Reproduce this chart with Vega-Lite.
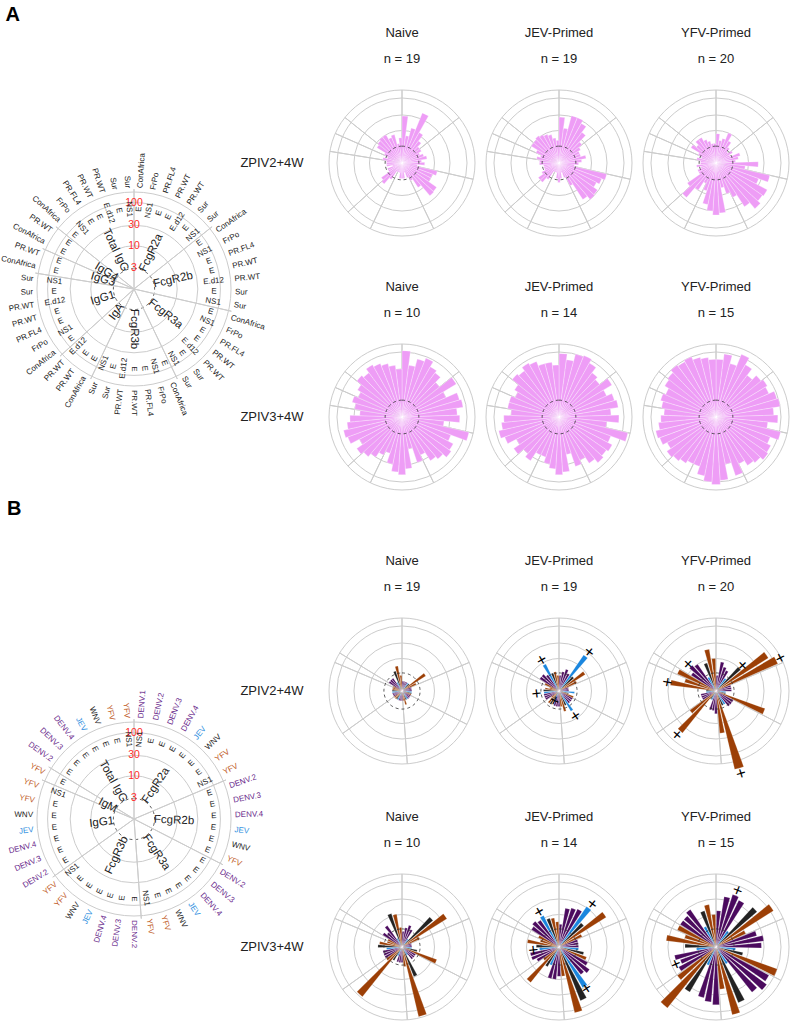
{
"$schema": "https://vega.github.io/schema/vega-lite/v6.json",
"padding": {"top": 5, "left": 0, "right": 0, "bottom": 0},
"spacing": 0,
"background": "white",
"config": {"view": {"stroke": null}, "font": "Liberation Sans", "text": {"font": "Liberation Sans", "color": "#222222"}},
"datasets": {
"panels": [
{"p":"n2","g":"Naive","t":"ZPIV2+4W","n":"n = 19"},
{"p":"j2","g":"JEV-Primed","t":"ZPIV2+4W","n":"n = 19"},
{"p":"y2","g":"YFV-Primed","t":"ZPIV2+4W","n":"n = 20"},
{"p":"n3","g":"Naive","t":"ZPIV3+4W","n":"n = 10"},
{"p":"j3","g":"JEV-Primed","t":"ZPIV3+4W","n":"n = 14"},
{"p":"y3","g":"YFV-Primed","t":"ZPIV3+4W","n":"n = 15"}
],
"ringv": [{"v":10},{"v":30},{"v":100},{"v":176}],
"ringlab": [{"v":3,"l":"3"},{"v":10,"l":"10"},{"v":30,"l":"30"},{"v":100,"l":"100"}],
"barsA": [
{"k":1,"sec":"FcgR2a","st":"ConAfrica","ag":"E","n2":28,"j2":26,"y2":8,"n3":110,"j3":90,"y3":60},
{"k":2,"sec":"FcgR2a","st":"FrPo","ag":"NS1","n2":7,"j2":12,"y2":5,"n3":40,"j3":60,"y3":90},
{"k":3,"sec":"FcgR2a","st":"PR.FL4","ag":"E","n2":13,"j2":32,"y2":6,"n3":70,"j3":100,"y3":50},
{"k":4,"sec":"FcgR2a","st":"PR.WT","ag":"E","n2":46,"j2":32,"y2":10,"n3":90,"j3":110,"y3":120},
{"k":5,"sec":"FcgR2a","st":"PR.WT","ag":"E.d12","n2":12,"j2":25,"y2":6,"n3":60,"j3":80,"y3":70},
{"k":6,"sec":"FcgR2a","st":"Sur","ag":"E","n2":7,"j2":15,"y2":4,"n3":50,"j3":50,"y3":40},
{"k":7,"sec":"FcgR2a","st":"Sur","ag":"NS1","n2":5,"j2":8,"y2":3,"n3":30,"j3":40,"y3":60},
{"k":8,"sec":"FcgR2b","st":"ConAfrica","ag":"E","n2":5,"j2":6,"y2":4,"n3":90,"j3":80,"y3":70},
{"k":9,"sec":"FcgR2b","st":"FrPo","ag":"NS1","n2":4,"j2":5,"y2":3,"n3":30,"j3":40,"y3":60},
{"k":10,"sec":"FcgR2b","st":"PR.FL4","ag":"E","n2":5,"j2":5,"y2":6,"n3":70,"j3":60,"y3":90},
{"k":11,"sec":"FcgR2b","st":"PR.WT","ag":"E","n2":6,"j2":7,"y2":5,"n3":80,"j3":70,"y3":100},
{"k":12,"sec":"FcgR2b","st":"PR.WT","ag":"E.d12","n2":4,"j2":5,"y2":4,"n3":50,"j3":40,"y3":60},
{"k":13,"sec":"FcgR2b","st":"Sur","ag":"E","n2":5,"j2":4,"y2":20,"n3":60,"j3":70,"y3":80},
{"k":14,"sec":"FcgR2b","st":"Sur","ag":"NS1","n2":3,"j2":3,"y2":8,"n3":20,"j3":30,"y3":40},
{"k":15,"sec":"FcgR3a","st":"ConAfrica","ag":"E","n2":13,"j2":32,"y2":50,"n3":130,"j3":150,"y3":110},
{"k":16,"sec":"FcgR3a","st":"FrPo","ag":"NS1","n2":10,"j2":25,"y2":25,"n3":40,"j3":50,"y3":60},
{"k":17,"sec":"FcgR3a","st":"PR.FL4","ag":"E","n2":10,"j2":20,"y2":60,"n3":60,"j3":70,"y3":80},
{"k":18,"sec":"FcgR3a","st":"PR.WT","ag":"E","n2":20,"j2":28,"y2":55,"n3":70,"j3":60,"y3":90},
{"k":19,"sec":"FcgR3a","st":"PR.WT","ag":"E.d12","n2":21,"j2":30,"y2":70,"n3":50,"j3":70,"y3":70},
{"k":20,"sec":"FcgR3a","st":"Sur","ag":"E","n2":8,"j2":22,"y2":40,"n3":40,"j3":50,"y3":60},
{"k":21,"sec":"FcgR3a","st":"Sur","ag":"NS1","n2":4,"j2":6,"y2":15,"n3":20,"j3":30,"y3":40},
{"k":22,"sec":"FcgR3b","st":"ConAfrica","ag":"E","n2":3,"j2":3,"y2":10,"n3":30,"j3":40,"y3":80},
{"k":23,"sec":"FcgR3b","st":"FrPo","ag":"NS1","n2":2,"j2":2,"y2":6,"n3":10,"j3":15,"y3":30},
{"k":24,"sec":"FcgR3b","st":"PR.FL4","ag":"E","n2":3,"j2":3,"y2":35,"n3":40,"j3":50,"y3":90},
{"k":25,"sec":"FcgR3b","st":"PR.WT","ag":"E","n2":3,"j2":4,"y2":40,"n3":60,"j3":60,"y3":120},
{"k":26,"sec":"FcgR3b","st":"PR.WT","ag":"E.d12","n2":3,"j2":3,"y2":30,"n3":50,"j3":40,"y3":100},
{"k":27,"sec":"FcgR3b","st":"Sur","ag":"E","n2":2,"j2":2,"y2":20,"n3":30,"j3":30,"y3":70},
{"k":28,"sec":"FcgR3b","st":"Sur","ag":"NS1","n2":2,"j2":2,"y2":8,"n3":15,"j3":20,"y3":40},
{"k":29,"sec":"IgA","st":"ConAfrica","ag":"E","n2":2,"j2":2,"y2":5,"n3":20,"j3":20,"y3":40},
{"k":30,"sec":"IgA","st":"PR.WT","ag":"E","n2":4,"j2":4,"y2":10,"n3":30,"j3":40,"y3":50},
{"k":31,"sec":"IgA","st":"PR.WT","ag":"E.d12","n2":7,"j2":6,"y2":25,"n3":40,"j3":30,"y3":60},
{"k":32,"sec":"IgG1","st":"ConAfrica","ag":"E","n2":6,"j2":6,"y2":12,"n3":50,"j3":50,"y3":70},
{"k":33,"sec":"IgG1","st":"FrPo","ag":"NS1","n2":3,"j2":4,"y2":4,"n3":30,"j3":30,"y3":50},
{"k":34,"sec":"IgG1","st":"PR.FL4","ag":"E","n2":3,"j2":3,"y2":4,"n3":60,"j3":60,"y3":70},
{"k":35,"sec":"IgG1","st":"PR.WT","ag":"E","n2":2,"j2":3,"y2":3,"n3":70,"j3":80,"y3":80},
{"k":36,"sec":"IgG1","st":"PR.WT","ag":"E.d12","n2":3,"j2":3,"y2":4,"n3":50,"j3":60,"y3":60},
{"k":37,"sec":"IgG1","st":"Sur","ag":"E","n2":3,"j2":4,"y2":3,"n3":40,"j3":50,"y3":50},
{"k":38,"sec":"IgG1","st":"Sur","ag":"NS1","n2":3,"j2":4,"y2":3,"n3":20,"j3":30,"y3":40},
{"k":39,"sec":"IgG3","st":"ConAfrica","ag":"E","n2":4,"j2":5,"y2":4,"n3":30,"j3":40,"y3":50},
{"k":40,"sec":"IgG3","st":"PR.WT","ag":"E","n2":3,"j2":4,"y2":3,"n3":40,"j3":40,"y3":60},
{"k":41,"sec":"IgG4","st":"ConAfrica","ag":"E","n2":4,"j2":6,"y2":4,"n3":30,"j3":30,"y3":50},
{"k":42,"sec":"IgG4","st":"PR.WT","ag":"E","n2":8,"j2":10,"y2":8,"n3":40,"j3":40,"y3":70},
{"k":43,"sec":"Total IgG","st":"ConAfrica","ag":"E","n2":9,"j2":10,"y2":6,"n3":60,"j3":70,"y3":80},
{"k":44,"sec":"Total IgG","st":"FrPo","ag":"NS1","n2":10,"j2":11,"y2":8,"n3":50,"j3":60,"y3":100},
{"k":45,"sec":"Total IgG","st":"PR.FL4","ag":"E","n2":10,"j2":10,"y2":8,"n3":70,"j3":80,"y3":90},
{"k":46,"sec":"Total IgG","st":"PR.WT","ag":"E","n2":7,"j2":9,"y2":6,"n3":60,"j3":70,"y3":100},
{"k":47,"sec":"Total IgG","st":"PR.WT","ag":"E.d12","n2":8,"j2":8,"y2":5,"n3":50,"j3":50,"y3":80},
{"k":48,"sec":"Total IgG","st":"Sur","ag":"E","n2":4,"j2":6,"y2":4,"n3":40,"j3":50,"y3":70},
{"k":49,"sec":"Total IgG","st":"Sur","ag":"NS1","n2":6,"j2":5,"y2":4,"n3":30,"j3":40,"y3":60}
],
"barsB": [
{"k":1,"sec":"FcgR2a","st":"DENV.1","ag":"NS1","n2":2,"j2":3,"y2":3,"n3":3,"j3":5,"y3":13},
{"k":2,"sec":"FcgR2a","st":"DENV.2","ag":"E","n2":2,"j2":4,"y2":8,"n3":4,"j3":16,"y3":37},
{"k":3,"sec":"FcgR2a","st":"DENV.3","ag":"E","n2":2,"j2":5,"y2":6,"n3":5,"j3":18,"y3":49},
{"k":4,"sec":"FcgR2a","st":"DENV.4","ag":"E","n2":2,"j2":4,"y2":5,"n3":4,"j3":20,"y3":40},
{"k":5,"sec":"FcgR2a","st":"JEV","ag":"E","n2":2,"j2":22,"y2":3,"n3":2,"j3":32,"y3":4},
{"k":6,"sec":"FcgR2a","st":"WNV","ag":"E","n2":2,"j2":4,"y2":10,"n3":18,"j3":10,"y3":46},
{"k":7,"sec":"FcgR2a","st":"YFV","ag":"E","n2":7.3,"j2":9,"y2":80,"n3":43,"j3":52,"y3":123},
{"k":8,"sec":"FcgR2a","st":"YFV","ag":"NS1","n2":3,"j2":4,"y2":120,"n3":4,"j3":6,"y3":10},
{"k":9,"sec":"FcgR2b","st":"DENV.2","ag":"E","n2":2,"j2":2,"y2":3,"n3":2,"j3":4,"y3":20},
{"k":10,"sec":"FcgR2b","st":"DENV.3","ag":"E","n2":2,"j2":2,"y2":3,"n3":2,"j3":4,"y3":30},
{"k":11,"sec":"FcgR2b","st":"DENV.4","ag":"E","n2":2,"j2":2,"y2":3,"n3":2,"j3":4,"y3":25},
{"k":12,"sec":"FcgR2b","st":"JEV","ag":"E","n2":2,"j2":3,"y2":2,"n3":2,"j3":4,"y3":4},
{"k":13,"sec":"FcgR2b","st":"WNV","ag":"E","n2":2,"j2":2,"y2":2,"n3":3,"j3":6,"y3":7},
{"k":14,"sec":"FcgR2b","st":"YFV","ag":"E","n2":2,"j2":3,"y2":40,"n3":13.7,"j3":8,"y3":100},
{"k":15,"sec":"FcgR3a","st":"DENV.2","ag":"E","n2":2,"j2":3,"y2":4,"n3":3,"j3":10,"y3":70},
{"k":16,"sec":"FcgR3a","st":"DENV.3","ag":"E","n2":2,"j2":3,"y2":4,"n3":3,"j3":14.7,"y3":87},
{"k":17,"sec":"FcgR3a","st":"DENV.4","ag":"E","n2":2,"j2":3,"y2":4,"n3":3,"j3":12,"y3":60},
{"k":18,"sec":"FcgR3a","st":"JEV","ag":"E","n2":2,"j2":5.3,"y2":3,"n3":2,"j3":28,"y3":4},
{"k":19,"sec":"FcgR3a","st":"WNV","ag":"E","n2":2,"j2":3,"y2":3,"n3":9.6,"j3":60,"y3":70},
{"k":20,"sec":"FcgR3a","st":"YFV","ag":"E","n2":2.7,"j2":4.4,"y2":300,"n3":160,"j3":120,"y3":140},
{"k":21,"sec":"FcgR3a","st":"YFV","ag":"NS1","n2":2,"j2":3,"y2":20,"n3":4,"j3":8,"y3":20},
{"k":22,"sec":"FcgR3b","st":"DENV.2","ag":"E","n2":2,"j2":3,"y2":5,"n3":3,"j3":8,"y3":60},
{"k":23,"sec":"FcgR3b","st":"DENV.3","ag":"E","n2":2,"j2":3,"y2":4,"n3":3,"j3":10,"y3":50},
{"k":24,"sec":"FcgR3b","st":"DENV.4","ag":"E","n2":2,"j2":3,"y2":4,"n3":3,"j3":10,"y3":40},
{"k":25,"sec":"FcgR3b","st":"JEV","ag":"E","n2":2,"j2":1.8,"y2":2,"n3":2,"j3":4,"y3":4},
{"k":26,"sec":"FcgR3b","st":"WNV","ag":"E","n2":2,"j2":3,"y2":2,"n3":3,"j3":5,"y3":40},
{"k":27,"sec":"FcgR3b","st":"YFV","ag":"E","n2":2,"j2":3,"y2":45,"n3":90,"j3":25,"y3":250},
{"k":28,"sec":"FcgR3b","st":"YFV","ag":"NS1","n2":2,"j2":2,"y2":10,"n3":4,"j3":4,"y3":30},
{"k":29,"sec":"IgG1","st":"DENV.2","ag":"E","n2":2,"j2":3,"y2":3,"n3":4,"j3":6,"y3":20},
{"k":30,"sec":"IgG1","st":"DENV.3","ag":"E","n2":2,"j2":3,"y2":3,"n3":4,"j3":8,"y3":14.7},
{"k":31,"sec":"IgG1","st":"DENV.4","ag":"E","n2":2,"j2":3,"y2":3,"n3":4,"j3":8,"y3":20},
{"k":32,"sec":"IgG1","st":"JEV","ag":"E","n2":2,"j2":2.9,"y2":2,"n3":3,"j3":4,"y3":4},
{"k":33,"sec":"IgG1","st":"WNV","ag":"E","n2":2,"j2":3,"y2":2,"n3":5.5,"j3":5,"y3":9},
{"k":34,"sec":"IgG1","st":"YFV","ag":"E","n2":2,"j2":2.7,"y2":26,"n3":5,"j3":9.6,"y3":35},
{"k":35,"sec":"IgG1","st":"YFV","ag":"NS1","n2":2,"j2":2,"y2":10,"n3":3,"j3":4,"y3":10},
{"k":36,"sec":"IgM","st":"YFV","ag":"E","n2":2,"j2":3,"y2":20,"n3":3,"j3":5,"y3":20},
{"k":37,"sec":"Total IgG","st":"DENV.2","ag":"E","n2":3,"j2":5,"y2":8,"n3":5,"j3":10,"y3":20},
{"k":38,"sec":"Total IgG","st":"DENV.3","ag":"E","n2":3,"j2":5,"y2":12,"n3":4,"j3":12,"y3":20},
{"k":39,"sec":"Total IgG","st":"DENV.4","ag":"E","n2":3,"j2":4,"y2":10,"n3":6.3,"j3":10,"y3":25},
{"k":40,"sec":"Total IgG","st":"JEV","ag":"E","n2":2,"j2":8.4,"y2":3,"n3":2,"j3":12,"y3":5},
{"k":41,"sec":"Total IgG","st":"WNV","ag":"E","n2":4.4,"j2":3.8,"y2":8,"n3":12,"j3":8.4,"y3":14.7},
{"k":42,"sec":"Total IgG","st":"YFV","ag":"E","n2":6,"j2":4,"y2":20,"n3":10.4,"j3":8,"y3":21},
{"k":43,"sec":"Total IgG","st":"YFV","ag":"NS1","n2":3,"j2":3,"y2":10,"n3":4,"j3":6,"y3":10}
],
"plusB": [
{"p":"j2","k":5,"v":32},{"p":"j2","k":18,"v":8},{"p":"j2","k":32,"v":4.7},{"p":"j2","k":40,"v":12},{"p":"j2","k":25,"v":2},
{"p":"y2","k":8,"v":160},{"p":"y2","k":20,"v":420},{"p":"y2","k":27,"v":60},{"p":"y2","k":34,"v":32},{"p":"y2","k":38,"v":15},{"p":"y2","k":6,"v":13},
{"p":"j3","k":5,"v":46},{"p":"j3","k":18,"v":32},{"p":"j3","k":40,"v":17},{"p":"j3","k":32,"v":5.9},
{"p":"y3","k":3,"v":70},{"p":"y3","k":30,"v":21}
]
},
"vconcat": [
{
"title": {"text": "A", "anchor": "start", "fontSize": 20, "fontWeight": "bold", "dx": 5, "offset": 2, "font": "Liberation Sans"},
"width": 790, "height": 465,
"encoding": {
"x": {"field": "g", "type": "nominal", "axis": null, "scale": {"type": "point", "domain": ["Naive","JEV-Primed","YFV-Primed"], "range": [400,714], "padding": 0}},
"y": {"field": "t", "type": "nominal", "axis": null, "scale": {"type": "point", "domain": ["ZPIV2+4W","ZPIV3+4W"], "range": [129,383], "padding": 0}}
},
"resolve": {"scale": {"theta": "independent", "radius": "independent", "angle": "independent", "color": "independent"}},
"layer": [
{"data": {"name": "panels"}, "mark": {"type": "arc", "theta": 0, "theta2": 6.2832, "filled": false, "color": "#cccccc", "strokeWidth": 1}, "encoding": {"radius": {"datum": 176, "type": "quantitative", "stack": null, "scale": {"type": "log", "domain": [1,176], "range": [0,73]}}}},
{"data": {"name": "panels"}, "mark": {"type": "arc", "theta": 0, "theta2": 6.2832, "filled": false, "color": "#cccccc", "strokeWidth": 1}, "encoding": {"radius": {"datum": 100, "type": "quantitative", "stack": null, "scale": {"type": "log", "domain": [1,176], "range": [0,73]}}}},
{"data": {"name": "panels"}, "mark": {"type": "arc", "theta": 0, "theta2": 6.2832, "filled": false, "color": "#cccccc", "strokeWidth": 1}, "encoding": {"radius": {"datum": 30, "type": "quantitative", "stack": null, "scale": {"type": "log", "domain": [1,176], "range": [0,73]}}}},
{"data": {"name": "panels"}, "mark": {"type": "arc", "theta": 0, "theta2": 6.2832, "filled": false, "color": "#cccccc", "strokeWidth": 1}, "encoding": {"radius": {"datum": 10, "type": "quantitative", "stack": null, "scale": {"type": "log", "domain": [1,176], "range": [0,73]}}}},
{"data": {"name": "barsA"},
 "transform": [{"fold": ["n2","j2","y2","n3","j3","y3"], "as": ["p","v"]}, {"aggregate": [{"op": "min", "field": "k", "as": "ks"}], "groupby": ["sec","p"]}, {"lookup": "p", "from": {"data": {"name": "panels"}, "key": "p", "fields": ["g","t"]}}],
 "mark": {"type": "arc", "filled": false, "color": "#cccccc", "strokeWidth": 1},
 "encoding": {"theta": {"field": "ks", "type": "quantitative", "stack": null, "scale": {"domain": [1,50], "range": [0,6.2832]}}, "theta2": {"field": "ks"}, "radius": {"datum": 176, "type": "quantitative", "stack": null, "scale": {"type": "log", "domain": [1,176], "range": [0,73]}}}},
{"data": {"name": "barsA"},
 "transform": [{"fold": ["n2","j2","y2","n3","j3","y3"], "as": ["p","v"]}, {"lookup": "p", "from": {"data": {"name": "panels"}, "key": "p", "fields": ["g","t"]}}],
 "mark": {"type": "arc", "color": "#ee9df6", "stroke": "#ffffff", "strokeWidth": 0.3},
 "encoding": {"theta": {"field": "k", "type": "ordinal", "scale": {"type": "band", "paddingInner": 0, "paddingOuter": 0}}, "radius": {"field": "v", "type": "quantitative", "stack": null, "scale": {"type": "log", "domain": [1,176], "range": [0,73]}}}},
{"data": {"name": "panels"}, "mark": {"type": "arc", "theta": 0, "theta2": 6.2832, "filled": false, "color": "#333333", "strokeWidth": 0.8, "strokeDash": [3,3]}, "encoding": {"radius": {"datum": 3.3, "type": "quantitative", "stack": null, "scale": {"type": "log", "domain": [1,176], "range": [0,73]}}}},
{"data": {"name": "panels"}, "mark": {"type": "text", "dy": -130, "fontSize": 13}, "encoding": {"text": {"field": "g"}}},
{"data": {"name": "panels"}, "mark": {"type": "text", "dy": -104, "fontSize": 13}, "encoding": {"text": {"field": "n"}}},
{"data": {"name": "panels"}, "transform": [{"filter": "datum.g == 'Naive'"}], "mark": {"type": "text", "dx": -130, "fontSize": 13}, "encoding": {"text": {"field": "t"}}},
{"data": {"name": "ringv"}, "mark": {"type": "arc", "theta": 0, "theta2": 6.2832, "filled": false, "color": "#cccccc", "strokeWidth": 1, "xOffset": -268, "yOffset": 126},
 "encoding": {"x": {"datum": "Naive", "type": "nominal"}, "y": {"datum": "ZPIV2+4W", "type": "nominal"}, "radius": {"field": "v", "type": "quantitative", "stack": null, "scale": {"type": "log", "domain": [1,176], "range": [0,97]}}}},
{"data": {"name": "ringlab"}, "transform": [{"filter": "datum.v == 3"}], "mark": {"type": "arc", "theta": 0, "theta2": 6.2832, "filled": false, "color": "#333333", "strokeWidth": 0.8, "strokeDash": [3,3], "xOffset": -268, "yOffset": 126},
 "encoding": {"x": {"datum": "Naive", "type": "nominal"}, "y": {"datum": "ZPIV2+4W", "type": "nominal"}, "radius": {"field": "v", "type": "quantitative", "stack": null, "scale": {"type": "log", "domain": [1,176], "range": [0,97]}}}},
{"data": {"name": "barsA"}, "transform": [{"aggregate": [{"op": "min", "field": "k", "as": "ks"}], "groupby": ["sec"]}],
 "mark": {"type": "arc", "filled": false, "color": "#cccccc", "strokeWidth": 1, "xOffset": -268, "yOffset": 126},
 "encoding": {"x": {"datum": "Naive", "type": "nominal"}, "y": {"datum": "ZPIV2+4W", "type": "nominal"}, "theta": {"field": "ks", "type": "quantitative", "stack": null, "scale": {"domain": [1,50], "range": [0,6.2832]}}, "theta2": {"field": "ks"}, "radius": {"datum": 205, "type": "quantitative", "stack": null, "scale": {"type": "log", "domain": [1,176], "range": [0,97]}}}},
{"data": {"name": "ringlab"}, "mark": {"type": "text", "color": "#ff2a2a", "fontSize": 10.5, "baseline": "middle", "xOffset": -268, "yOffset": 126},
 "encoding": {"x": {"datum": "Naive", "type": "nominal"}, "y": {"datum": "ZPIV2+4W", "type": "nominal"}, "text": {"field": "l"}, "theta": {"value": 0}, "radius": {"field": "v", "type": "quantitative", "stack": null, "scale": {"type": "log", "domain": [1,176], "range": [0,97]}}}},
{"data": {"name": "barsA"}, "transform": [{"aggregate": [{"op": "mean", "field": "k", "as": "km"}], "groupby": ["sec"]}, {"filter": "datum.km <= 25"}],
 "mark": {"type": "text", "fontSize": 11.5, "align": "left", "baseline": "middle", "xOffset": -268, "yOffset": 126},
 "encoding": {"x": {"datum": "Naive", "type": "nominal"}, "y": {"datum": "ZPIV2+4W", "type": "nominal"}, "text": {"field": "sec"}, "theta": {"field": "km", "type": "quantitative", "stack": null, "scale": {"domain": [0.5,49.5], "range": [0,6.2832]}}, "angle": {"field": "km", "type": "quantitative", "scale": {"domain": [0.5,49.5], "range": [-90,270]}}, "radius": {"datum": 2.9, "type": "quantitative", "stack": null, "scale": {"type": "log", "domain": [1,176], "range": [0,97]}}}},
{"data": {"name": "barsA"}, "transform": [{"aggregate": [{"op": "mean", "field": "k", "as": "km"}], "groupby": ["sec"]}, {"filter": "datum.km > 25"}],
 "mark": {"type": "text", "fontSize": 11.5, "align": "right", "baseline": "middle", "xOffset": -268, "yOffset": 126},
 "encoding": {"x": {"datum": "Naive", "type": "nominal"}, "y": {"datum": "ZPIV2+4W", "type": "nominal"}, "text": {"field": "sec"}, "theta": {"field": "km", "type": "quantitative", "stack": null, "scale": {"domain": [0.5,49.5], "range": [0,6.2832]}}, "angle": {"field": "km", "type": "quantitative", "scale": {"domain": [0.5,49.5], "range": [90,450]}}, "radius": {"datum": 2.9, "type": "quantitative", "stack": null, "scale": {"type": "log", "domain": [1,176], "range": [0,97]}}}},
{"data": {"name": "barsA"}, "transform": [{"filter": "datum.k <= 25"}],
 "mark": {"type": "text", "fontSize": 8, "align": "left", "baseline": "middle", "xOffset": -268, "yOffset": 126},
 "encoding": {"x": {"datum": "Naive", "type": "nominal"}, "y": {"datum": "ZPIV2+4W", "type": "nominal"}, "text": {"field": "st"}, "theta": {"field": "k", "type": "quantitative", "stack": null, "scale": {"domain": [0.5,49.5], "range": [0,6.2832]}}, "angle": {"field": "k", "type": "quantitative", "scale": {"domain": [0.5,49.5], "range": [-90,270]}}, "radius": {"datum": 218, "type": "quantitative", "stack": null, "scale": {"type": "log", "domain": [1,176], "range": [0,97]}}}},
{"data": {"name": "barsA"}, "transform": [{"filter": "datum.k > 25"}],
 "mark": {"type": "text", "fontSize": 8, "align": "right", "baseline": "middle", "xOffset": -268, "yOffset": 126},
 "encoding": {"x": {"datum": "Naive", "type": "nominal"}, "y": {"datum": "ZPIV2+4W", "type": "nominal"}, "text": {"field": "st"}, "theta": {"field": "k", "type": "quantitative", "stack": null, "scale": {"domain": [0.5,49.5], "range": [0,6.2832]}}, "angle": {"field": "k", "type": "quantitative", "scale": {"domain": [0.5,49.5], "range": [90,450]}}, "radius": {"datum": 218, "type": "quantitative", "stack": null, "scale": {"type": "log", "domain": [1,176], "range": [0,97]}}}},
{"data": {"name": "barsA"}, "transform": [{"filter": "datum.k <= 25"}],
 "mark": {"type": "text", "fontSize": 8, "align": "center", "baseline": "middle", "xOffset": -268, "yOffset": 126},
 "encoding": {"x": {"datum": "Naive", "type": "nominal"}, "y": {"datum": "ZPIV2+4W", "type": "nominal"}, "text": {"field": "ag"}, "theta": {"field": "k", "type": "quantitative", "stack": null, "scale": {"domain": [0.5,49.5], "range": [0,6.2832]}}, "angle": {"field": "k", "type": "quantitative", "scale": {"domain": [0.5,49.5], "range": [-90,270]}}, "radius": {"datum": 71, "type": "quantitative", "stack": null, "scale": {"type": "log", "domain": [1,176], "range": [0,97]}}}},
{"data": {"name": "barsA"}, "transform": [{"filter": "datum.k > 25"}],
 "mark": {"type": "text", "fontSize": 8, "align": "center", "baseline": "middle", "xOffset": -268, "yOffset": 126},
 "encoding": {"x": {"datum": "Naive", "type": "nominal"}, "y": {"datum": "ZPIV2+4W", "type": "nominal"}, "text": {"field": "ag"}, "theta": {"field": "k", "type": "quantitative", "stack": null, "scale": {"domain": [0.5,49.5], "range": [0,6.2832]}}, "angle": {"field": "k", "type": "quantitative", "scale": {"domain": [0.5,49.5], "range": [90,450]}}, "radius": {"datum": 71, "type": "quantitative", "stack": null, "scale": {"type": "log", "domain": [1,176], "range": [0,97]}}}}
]
},
{
"title": {"text": "B", "anchor": "start", "fontSize": 20, "fontWeight": "bold", "dx": 5, "offset": 2, "font": "Liberation Sans"},
"width": 790, "height": 500,
"encoding": {
"x": {"field": "g", "type": "nominal", "axis": null, "scale": {"type": "point", "domain": ["Naive","JEV-Primed","YFV-Primed"], "range": [400,714], "padding": 0}},
"y": {"field": "t", "type": "nominal", "axis": null, "scale": {"type": "point", "domain": ["ZPIV2+4W","ZPIV3+4W"], "range": [170,426], "padding": 0}}
},
"resolve": {"scale": {"theta": "independent", "radius": "independent", "angle": "independent", "color": "independent"}},
"layer": [
{"data": {"name": "panels"}, "mark": {"type": "arc", "theta": 0, "theta2": 6.2832, "filled": false, "color": "#cccccc", "strokeWidth": 1}, "encoding": {"radius": {"datum": 176, "type": "quantitative", "stack": null, "scale": {"type": "log", "domain": [1,176], "range": [0,73]}}}},
{"data": {"name": "panels"}, "mark": {"type": "arc", "theta": 0, "theta2": 6.2832, "filled": false, "color": "#cccccc", "strokeWidth": 1}, "encoding": {"radius": {"datum": 100, "type": "quantitative", "stack": null, "scale": {"type": "log", "domain": [1,176], "range": [0,73]}}}},
{"data": {"name": "panels"}, "mark": {"type": "arc", "theta": 0, "theta2": 6.2832, "filled": false, "color": "#cccccc", "strokeWidth": 1}, "encoding": {"radius": {"datum": 30, "type": "quantitative", "stack": null, "scale": {"type": "log", "domain": [1,176], "range": [0,73]}}}},
{"data": {"name": "panels"}, "mark": {"type": "arc", "theta": 0, "theta2": 6.2832, "filled": false, "color": "#cccccc", "strokeWidth": 1}, "encoding": {"radius": {"datum": 10, "type": "quantitative", "stack": null, "scale": {"type": "log", "domain": [1,176], "range": [0,73]}}}},
{"data": {"name": "barsB"},
 "transform": [{"fold": ["n2","j2","y2","n3","j3","y3"], "as": ["p","v"]}, {"aggregate": [{"op": "min", "field": "k", "as": "ks"}], "groupby": ["sec","p"]}, {"lookup": "p", "from": {"data": {"name": "panels"}, "key": "p", "fields": ["g","t"]}}],
 "mark": {"type": "arc", "filled": false, "color": "#cccccc", "strokeWidth": 1},
 "encoding": {"theta": {"field": "ks", "type": "quantitative", "stack": null, "scale": {"domain": [1,44], "range": [0,6.2832]}}, "theta2": {"field": "ks"}, "radius": {"datum": 176, "type": "quantitative", "stack": null, "scale": {"type": "log", "domain": [1,176], "range": [0,73]}}}},
{"data": {"name": "barsB"},
 "transform": [{"fold": ["n2","j2","y2","n3","j3","y3"], "as": ["p","v"]}, {"lookup": "p", "from": {"data": {"name": "panels"}, "key": "p", "fields": ["g","t"]}}],
 "mark": {"type": "arc", "stroke": "#ffffff", "strokeWidth": 0.2},
 "encoding": {"theta": {"field": "k", "type": "ordinal", "scale": {"type": "band", "paddingInner": 0.2, "paddingOuter": 0.1}}, "radius": {"field": "v", "type": "quantitative", "stack": null, "scale": {"type": "log", "domain": [1,176], "range": [0,73]}},
  "color": {"field": "st", "type": "nominal", "legend": null, "scale": {"domain": ["DENV.1","DENV.2","DENV.3","DENV.4","JEV","WNV","YFV"], "range": ["#4b0a5e","#4b0a5e","#4b0a5e","#4b0a5e","#1a86de","#222222","#9c3f06"]}}}},
{"data": {"name": "panels"}, "mark": {"type": "arc", "theta": 0, "theta2": 6.2832, "filled": false, "color": "#333333", "strokeWidth": 0.8, "strokeDash": [3,3]}, "encoding": {"radius": {"datum": 3.6, "type": "quantitative", "stack": null, "scale": {"type": "log", "domain": [1,176], "range": [0,73]}}}},
{"data": {"name": "panels"}, "mark": {"type": "arc", "theta": 0, "theta2": 6.2832, "filled": false, "color": "#aaaaaa", "strokeWidth": 1}, "encoding": {"radius": {"datum": 1.25, "type": "quantitative", "stack": null, "scale": {"type": "log", "domain": [1,176], "range": [0,73]}}}},
{"data": {"name": "plusB"}, "transform": [{"lookup": "p", "from": {"data": {"name": "panels"}, "key": "p", "fields": ["g","t"]}}],
 "mark": {"type": "text", "text": "+", "fontSize": 17, "baseline": "middle", "align": "center", "color": "#000000"},
 "encoding": {"theta": {"field": "k", "type": "quantitative", "stack": null, "scale": {"domain": [0.5,43.5], "range": [0,6.2832]}}, "angle": {"field": "k", "type": "quantitative", "scale": {"domain": [0.5,43.5], "range": [0,360]}}, "radius": {"field": "v", "type": "quantitative", "stack": null, "scale": {"type": "log", "domain": [1,176], "range": [0,73]}}}},
{"data": {"name": "panels"}, "mark": {"type": "text", "dy": -130, "fontSize": 13}, "encoding": {"text": {"field": "g"}}},
{"data": {"name": "panels"}, "mark": {"type": "text", "dy": -104, "fontSize": 13}, "encoding": {"text": {"field": "n"}}},
{"data": {"name": "panels"}, "transform": [{"filter": "datum.g == 'Naive'"}], "mark": {"type": "text", "dx": -130, "fontSize": 13}, "encoding": {"text": {"field": "t"}}},
{"data": {"name": "ringv"}, "mark": {"type": "arc", "theta": 0, "theta2": 6.2832, "filled": false, "color": "#cccccc", "strokeWidth": 1, "xOffset": -268, "yOffset": 128},
 "encoding": {"x": {"datum": "Naive", "type": "nominal"}, "y": {"datum": "ZPIV2+4W", "type": "nominal"}, "radius": {"field": "v", "type": "quantitative", "stack": null, "scale": {"type": "log", "domain": [1,176], "range": [0,97]}}}},
{"data": {"name": "ringlab"}, "transform": [{"filter": "datum.v == 3"}], "mark": {"type": "arc", "theta": 0, "theta2": 6.2832, "filled": false, "color": "#333333", "strokeWidth": 0.8, "strokeDash": [3,3], "xOffset": -268, "yOffset": 128},
 "encoding": {"x": {"datum": "Naive", "type": "nominal"}, "y": {"datum": "ZPIV2+4W", "type": "nominal"}, "radius": {"field": "v", "type": "quantitative", "stack": null, "scale": {"type": "log", "domain": [1,176], "range": [0,97]}}}},
{"data": {"name": "barsB"}, "transform": [{"aggregate": [{"op": "min", "field": "k", "as": "ks"}], "groupby": ["sec"]}],
 "mark": {"type": "arc", "filled": false, "color": "#cccccc", "strokeWidth": 1, "xOffset": -268, "yOffset": 128},
 "encoding": {"x": {"datum": "Naive", "type": "nominal"}, "y": {"datum": "ZPIV2+4W", "type": "nominal"}, "theta": {"field": "ks", "type": "quantitative", "stack": null, "scale": {"domain": [1,44], "range": [0,6.2832]}}, "theta2": {"field": "ks"}, "radius": {"datum": 205, "type": "quantitative", "stack": null, "scale": {"type": "log", "domain": [1,176], "range": [0,97]}}}},
{"data": {"name": "ringlab"}, "mark": {"type": "text", "color": "#ff2a2a", "fontSize": 10.5, "baseline": "middle", "xOffset": -268, "yOffset": 128},
 "encoding": {"x": {"datum": "Naive", "type": "nominal"}, "y": {"datum": "ZPIV2+4W", "type": "nominal"}, "text": {"field": "l"}, "theta": {"value": 0}, "radius": {"field": "v", "type": "quantitative", "stack": null, "scale": {"type": "log", "domain": [1,176], "range": [0,97]}}}},
{"data": {"name": "barsB"}, "transform": [{"aggregate": [{"op": "mean", "field": "k", "as": "km"}], "groupby": ["sec"]}, {"filter": "datum.km <= 22"}],
 "mark": {"type": "text", "fontSize": 11.5, "align": "left", "baseline": "middle", "xOffset": -268, "yOffset": 128},
 "encoding": {"x": {"datum": "Naive", "type": "nominal"}, "y": {"datum": "ZPIV2+4W", "type": "nominal"}, "text": {"field": "sec"}, "theta": {"field": "km", "type": "quantitative", "stack": null, "scale": {"domain": [0.5,43.5], "range": [0,6.2832]}}, "angle": {"field": "km", "type": "quantitative", "scale": {"domain": [0.5,43.5], "range": [-90,270]}}, "radius": {"datum": 2.9, "type": "quantitative", "stack": null, "scale": {"type": "log", "domain": [1,176], "range": [0,97]}}}},
{"data": {"name": "barsB"}, "transform": [{"aggregate": [{"op": "mean", "field": "k", "as": "km"}], "groupby": ["sec"]}, {"filter": "datum.km > 22"}],
 "mark": {"type": "text", "fontSize": 11.5, "align": "right", "baseline": "middle", "xOffset": -268, "yOffset": 128},
 "encoding": {"x": {"datum": "Naive", "type": "nominal"}, "y": {"datum": "ZPIV2+4W", "type": "nominal"}, "text": {"field": "sec"}, "theta": {"field": "km", "type": "quantitative", "stack": null, "scale": {"domain": [0.5,43.5], "range": [0,6.2832]}}, "angle": {"field": "km", "type": "quantitative", "scale": {"domain": [0.5,43.5], "range": [90,450]}}, "radius": {"datum": 2.9, "type": "quantitative", "stack": null, "scale": {"type": "log", "domain": [1,176], "range": [0,97]}}}},
{"data": {"name": "barsB"}, "transform": [{"filter": "datum.k <= 22"}],
 "mark": {"type": "text", "fontSize": 8, "align": "left", "baseline": "middle", "xOffset": -268, "yOffset": 128},
 "encoding": {"x": {"datum": "Naive", "type": "nominal"}, "y": {"datum": "ZPIV2+4W", "type": "nominal"}, "text": {"field": "st"}, "theta": {"field": "k", "type": "quantitative", "stack": null, "scale": {"domain": [0.5,43.5], "range": [0,6.2832]}}, "angle": {"field": "k", "type": "quantitative", "scale": {"domain": [0.5,43.5], "range": [-90,270]}}, "radius": {"datum": 218, "type": "quantitative", "stack": null, "scale": {"type": "log", "domain": [1,176], "range": [0,97]}},
  "color": {"field": "st", "type": "nominal", "legend": null, "scale": {"domain": ["DENV.1","DENV.2","DENV.3","DENV.4","JEV","WNV","YFV"], "range": ["#6a2a8c","#6a2a8c","#6a2a8c","#6a2a8c","#2f8fe0","#222222","#c05a1e"]}}}},
{"data": {"name": "barsB"}, "transform": [{"filter": "datum.k > 22"}],
 "mark": {"type": "text", "fontSize": 8, "align": "right", "baseline": "middle", "xOffset": -268, "yOffset": 128},
 "encoding": {"x": {"datum": "Naive", "type": "nominal"}, "y": {"datum": "ZPIV2+4W", "type": "nominal"}, "text": {"field": "st"}, "theta": {"field": "k", "type": "quantitative", "stack": null, "scale": {"domain": [0.5,43.5], "range": [0,6.2832]}}, "angle": {"field": "k", "type": "quantitative", "scale": {"domain": [0.5,43.5], "range": [90,450]}}, "radius": {"datum": 218, "type": "quantitative", "stack": null, "scale": {"type": "log", "domain": [1,176], "range": [0,97]}},
  "color": {"field": "st", "type": "nominal", "legend": null, "scale": {"domain": ["DENV.1","DENV.2","DENV.3","DENV.4","JEV","WNV","YFV"], "range": ["#6a2a8c","#6a2a8c","#6a2a8c","#6a2a8c","#2f8fe0","#222222","#c05a1e"]}}}},
{"data": {"name": "barsB"}, "transform": [{"filter": "datum.k <= 22"}],
 "mark": {"type": "text", "fontSize": 8, "align": "center", "baseline": "middle", "xOffset": -268, "yOffset": 128},
 "encoding": {"x": {"datum": "Naive", "type": "nominal"}, "y": {"datum": "ZPIV2+4W", "type": "nominal"}, "text": {"field": "ag"}, "theta": {"field": "k", "type": "quantitative", "stack": null, "scale": {"domain": [0.5,43.5], "range": [0,6.2832]}}, "angle": {"field": "k", "type": "quantitative", "scale": {"domain": [0.5,43.5], "range": [-90,270]}}, "radius": {"datum": 71, "type": "quantitative", "stack": null, "scale": {"type": "log", "domain": [1,176], "range": [0,97]}}}},
{"data": {"name": "barsB"}, "transform": [{"filter": "datum.k > 22"}],
 "mark": {"type": "text", "fontSize": 8, "align": "center", "baseline": "middle", "xOffset": -268, "yOffset": 128},
 "encoding": {"x": {"datum": "Naive", "type": "nominal"}, "y": {"datum": "ZPIV2+4W", "type": "nominal"}, "text": {"field": "ag"}, "theta": {"field": "k", "type": "quantitative", "stack": null, "scale": {"domain": [0.5,43.5], "range": [0,6.2832]}}, "angle": {"field": "k", "type": "quantitative", "scale": {"domain": [0.5,43.5], "range": [90,450]}}, "radius": {"datum": 71, "type": "quantitative", "stack": null, "scale": {"type": "log", "domain": [1,176], "range": [0,97]}}}}
]
}
]
}
